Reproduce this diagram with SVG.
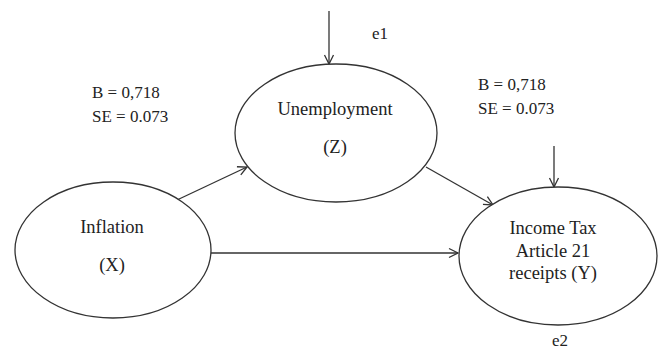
<svg xmlns="http://www.w3.org/2000/svg" width="661" height="349" viewBox="0 0 661 349">
<defs>
<style>
.node ellipse{fill:#fff;stroke:#333;stroke-width:1.3}
text{font-family:"Liberation Serif","Times New Roman",serif;fill:#222;text-anchor:middle}
.n{font-size:18.5px}
.l{font-size:17px;text-anchor:start}
.c line{stroke:#333;stroke-width:1.3;marker-end:url(#a)}
</style>
<marker id="a" markerWidth="12" markerHeight="12" refX="10" refY="5" orient="auto" markerUnits="userSpaceOnUse" viewBox="0 0 12 10">
<path d="M1,0.5 L10,5 L1,9.5" fill="none" stroke="#333" stroke-width="1.3"/>
</marker>
</defs>
<rect width="661" height="349" fill="#fff"/>
<g class="c" id="connectors">
<line x1="329" y1="11" x2="329" y2="64"/>
<line x1="554" y1="146" x2="554" y2="187"/>
<line x1="177" y1="200" x2="247" y2="167"/>
<line x1="426" y1="167" x2="493" y2="205"/>
<line x1="210" y1="253" x2="458" y2="253"/>
</g>
<g class="node" id="unemployment">
<ellipse cx="336" cy="133" rx="101" ry="69"/>
<text class="n" x="335" y="115">Unemployment</text>
<text class="n" x="335" y="153">(Z)</text>
</g>
<g class="node" id="inflation">
<ellipse cx="113" cy="250" rx="98" ry="68"/>
<text class="n" x="112" y="233">Inflation</text>
<text class="n" x="112" y="271">(X)</text>
</g>
<g class="node" id="income">
<ellipse cx="558" cy="256" rx="99" ry="69"/>
<text class="n" x="553" y="234">Income Tax</text>
<text class="n" x="553" y="257">Article 21</text>
<text class="n" x="553" y="279">receipts (Y)</text>
</g>
<g id="labels">
<text class="l" x="380" y="39" style="text-anchor:middle">e1</text>
<text class="l" x="560" y="346" style="text-anchor:middle">e2</text>
<text class="l" x="92" y="98">B = 0,718</text>
<text class="l" x="92" y="122">SE = 0.073</text>
<text class="l" x="478" y="90">B = 0,718</text>
<text class="l" x="478" y="114">SE = 0.073</text>
</g>
</svg>
